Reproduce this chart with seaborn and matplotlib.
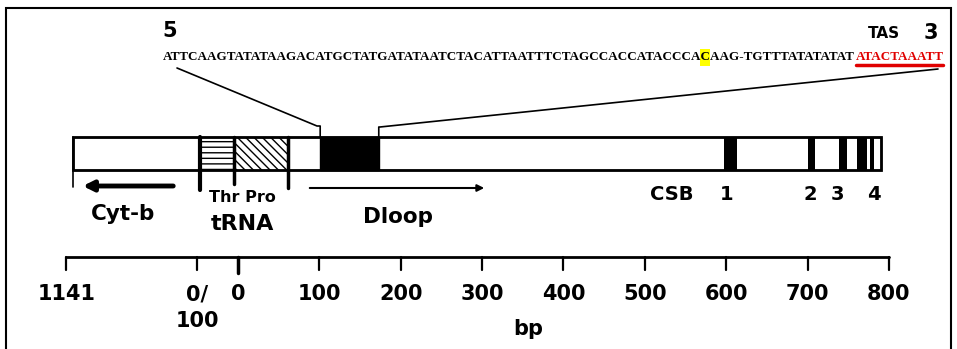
import matplotlib
matplotlib.use("Agg")
import matplotlib.pyplot as plt
import seaborn as sns
import numpy as np
import pandas as pd
from matplotlib.patches import Rectangle, FancyArrowPatch

# ---------------- data ----------------
# gene map (positions on the drawing scale, bp; left of 0 = Cyt-b / tRNA region)
region_names = ["Cyt-b", "tRNA-Thr", "tRNA-Pro", "D-loop"]
region_start = [-203, -47, -5, 61]
region_end = [-47, -5, 61, 790]
region_hatch = ["", "---", "\\\\\\\\", ""]

block_start, block_end = 101, 173          # sequenced (black) block

band_start = [597, 700, 739, 761, 777]     # conserved sequence blocks (dark bands)
band_end = [613, 709, 748, 773, 782]
csb_labels = ["1", "2", "3", "4"]
csb_label_pos = [600, 703, 737, 781]

ruler_ticks = [-211, -50, 0, 100, 200, 300, 400, 500, 600, 700, 800]
ruler_labels = ["1141", "0/\n100", "0", "100", "200", "300", "400", "500", "600", "700", "800"]

seq_plain1 = "ATTCAAGTATATAAGACATGCTATGATATAATCTACATTAATTTCTAGCCACCATACCCA"
seq_highlight = "C"
seq_plain2 = "AAG-TGTTTATATATAT"
seq_tas = "ATACTAAATT"

# ---------------- figure ----------------
sns.set_theme(style="white")
plt.rcParams["font.family"] = ["DejaVu Sans"]

W, H = 957, 349
fig = plt.figure(figsize=(W / 100, H / 100), dpi=100)
ax = fig.add_axes([0, 0, 1, 1])
PX0, SCALE = 238.0, 0.8137          # pixel of bp 0, pixels per bp


def bp(px):
    return (px - PX0) / SCALE


ax.set_xlim(bp(0), bp(W))
ax.set_ylim(H, 0)
ax.axis("off")

# outer frame
fig.patches.append(Rectangle((6 / W, -0.1), (951 - 6) / W, (H - 8) / H + 0.1,
                             transform=fig.transFigure, fill=False,
                             edgecolor="black", lw=1.5))

# ---------------- gene bar ----------------
BAR_TOP, BAR_BOT = 137, 170
for s, e, h in zip(region_start, region_end, region_hatch):
    ax.add_patch(Rectangle((s, BAR_TOP), e - s, BAR_BOT - BAR_TOP,
                           facecolor="white", edgecolor="black", lw=1.0,
                           hatch=h))
ax.add_patch(Rectangle((region_start[0], BAR_TOP), region_end[-1] - region_start[0],
                       BAR_BOT - BAR_TOP, fill=False, edgecolor="black", lw=2.0))
ax.add_patch(Rectangle((block_start, BAR_TOP), block_end - block_start,
                       BAR_BOT - BAR_TOP, facecolor="black", edgecolor="black", lw=1))
for s, e in zip(band_start, band_end):
    ax.add_patch(Rectangle((s, BAR_TOP), e - s, BAR_BOT - BAR_TOP,
                           facecolor="black", edgecolor="none"))

# boundary ticks below the bar
ax.plot([region_start[0]] * 2, [BAR_TOP, 187], color="black", lw=1.2)
ax.plot([region_start[1]] * 2, [BAR_TOP, 190], color="black", lw=3)
ax.plot([region_start[2]] * 2, [BAR_TOP, 184], color="black", lw=2.5)
ax.plot([region_start[3]] * 2, [BAR_TOP, 188], color="black", lw=2.5)

# arrows
ax.add_patch(FancyArrowPatch((bp(176), 186), (bp(80), 186), arrowstyle="-|>",
                             mutation_scale=15, lw=3.5, color="black"))
ax.add_patch(FancyArrowPatch((bp(307), 188), (bp(487), 188), arrowstyle="-|>",
                             mutation_scale=10, lw=1.5, color="black"))

# callout lines to sequence
ax.plot([bp(177), bp(317), block_start, block_start], [68, 126, 126, BAR_TOP],
        color="black", lw=1.2)
ax.plot([bp(938), bp(380), block_end, block_end], [69, 127, 127, BAR_TOP],
        color="black", lw=1.2)

# labels on gene map
bold = dict(fontweight="bold", color="black")
ax.text(bp(242), 198, "Thr Pro", ha="center", va="center", fontsize=11.5, **bold)
ax.text(bp(123), 214, "Cyt-b", ha="center", va="center", fontsize=15.5, **bold)
ax.text(bp(242), 224, "tRNA", ha="center", va="center", fontsize=16, **bold)
ax.text(bp(398), 217, "Dloop", ha="center", va="center", fontsize=15.5, **bold)
ax.text(bp(672), 195, "CSB", ha="center", va="center", fontsize=14, **bold)
for lab, pos in zip(csb_labels, csb_label_pos):
    ax.text(pos, 194, lab, ha="center", va="center", fontsize=14, **bold)

# ---------------- ruler ----------------
RULER_Y = 257
ax.plot([ruler_ticks[0], ruler_ticks[-1]], [RULER_Y, RULER_Y], color="black", lw=2)
for t, lab in zip(ruler_ticks, ruler_labels):
    ax.plot([t, t], [RULER_Y, 273 if t == 0 else 270], color="black",
            lw=2.5 if t == 0 else 1.6)
    ax.text(t, 284, lab, ha="center", va="top", fontsize=15, linespacing=1.45, **bold)
ax.text(bp(528), 329, "bp", ha="center", va="center", fontsize=15, **bold)

# ---------------- sequence ----------------
ax.text(bp(170), 31, "5", ha="center", va="center", fontsize=15, **bold)
ax.text(bp(884), 34, "TAS", ha="center", va="center", fontsize=11, **bold)
ax.text(bp(931), 33, "3", ha="center", va="center", fontsize=15, **bold)

SEQ_Y, SEQ_X0, SEQ_X1 = 57, 163, 943
GAP = 2.0
seqfont = dict(family="Liberation Serif", fontweight="bold", va="center", ha="left")


def band_pixels():
    fig.canvas.draw()
    return np.asarray(fig.canvas.buffer_rgba())[46:68, :, :3].astype(int)


def ink_extent(before, after):
    diff = np.abs(after - before).max(axis=2).max(axis=0)
    cols = np.nonzero(diff > 90)[0]
    return cols.min(), cols.max() + 1


def place(text, color, fs, x_target):
    before = band_pixels()
    t = ax.text(bp(x_target), SEQ_Y, text, fontsize=fs, color=color, zorder=3, **seqfont)
    lo, hi = ink_extent(before, band_pixels())
    shift = x_target - lo
    t.set_x(bp(x_target + shift))
    return t, lo + shift, hi + shift


# fit the font size so the whole sequence spans the reference width
black_part = seq_plain1 + seq_highlight + seq_plain2
full = black_part + seq_tas
fs = 9.5
for _ in range(2):
    t, lo, hi = place(full, "black", fs, SEQ_X0)
    t.remove()
    fs *= (SEQ_X1 - SEQ_X0) / (hi - lo)

# where the highlighted base lies inside the black run
t, _, hi_a = place(seq_plain1, "black", fs, SEQ_X0)
t.remove()
t, _, hi_b = place(seq_plain1 + seq_highlight, "black", fs, SEQ_X0)
t.remove()
ax.add_patch(Rectangle((bp(hi_a - 0.3), 49), (hi_b - hi_a + 1.3) / SCALE, 17,
                       facecolor="#ffff00", edgecolor="none", zorder=1))

# black run (one text) and red TAS run
_, _, black_hi = place(black_part, "black", fs, SEQ_X0)
_, red_lo, red_hi = place(seq_tas, "#e00000", fs, black_hi + GAP)
ax.plot([bp(red_lo), bp(red_hi)], [64.5, 64.5], color="#e00000", lw=2.5)

fig.savefig("out.png", dpi=100)
